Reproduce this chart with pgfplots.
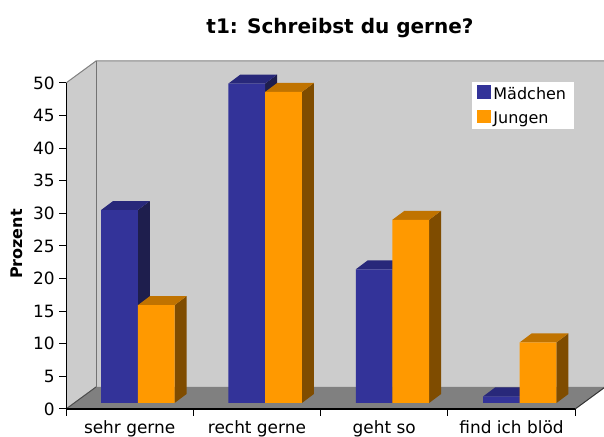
\documentclass[border=0pt]{standalone}
\usepackage{fontspec}
\setmainfont{DejaVu Sans}
\usepackage{pgfplots}
\usepackage{pgfplotstable}
\pgfplotsset{compat=1.18}
\definecolor{mfront}{HTML}{333399}
\definecolor{mtop}{HTML}{28287A}
\definecolor{mside}{HTML}{1E1E4D}
\definecolor{jfront}{HTML}{FF9900}
\definecolor{jtop}{HTML}{C07300}
\definecolor{jside}{HTML}{7F4C00}
\definecolor{wall}{HTML}{CCCCCC}
\definecolor{floorc}{HTML}{808080}

\pgfplotstableread{
cat m j
0 29.6 15.0
1 49.0 47.7
2 20.5 28.1
3 1.0 9.3
}\datatable

\newcommand\barfaces[4]{%
 \pgfplotsinvokeforeach{0,1,2,3}{%
  \pgfplotstablegetelem{##1}{#1}\of\datatable
  \let\bv\pgfplotsretval
  \pgfmathsetmacro\bxl{##1+(#2)+0.0644}%
  \pgfmathsetmacro\bxr{\bxl+0.2883}%
  \pgfmathsetmacro\bxld{\bxl+0.0943}%
  \pgfmathsetmacro\bxrd{\bxr+0.0943}%
  \pgfmathsetmacro\byb{0.92}%
  \pgfmathsetmacro\bybd{0.92+1.38}%
  \pgfmathsetmacro\byt{\bv+0.92}%
  \pgfmathsetmacro\bytd{\bv+0.92+1.38}%
  \edef\doplot{%
   \noexpand\addplot[fill=#3,draw=none,forget plot] coordinates {(\bxr,\byb) (\bxrd,\bybd) (\bxrd,\bytd) (\bxr,\byt)} -- cycle;
   \noexpand\addplot[fill=#4,draw=none,forget plot] coordinates {(\bxl,\byt) (\bxr,\byt) (\bxrd,\bytd) (\bxld,\bytd)} -- cycle;
  }\doplot
 }}

\begin{document}
\begin{tikzpicture}
\begin{axis}[
 x=95.475pt, y=4.89pt,
 xmin=-0.5, xmax=3.5, ymin=0, ymax=50,
 axis lines*=left,
 axis line style={-},
 x axis line style={line width=1.5pt, black},
 y axis line style={line width=0.75pt, black},
 axis on top,
 clip=false,
 tick align=outside,
 major tick length=5pt,
 ytick={0,5,...,50},
 y tick style={black, line width=0.75pt},
 xtick={-0.5,0.5,1.5,2.5,3.5},
 xticklabels={,,,,},
 x tick style={black, line width=0.75pt},
 extra x ticks={0,1,2,3},
 extra x tick labels={sehr gerne, recht gerne, geht so, find ich blöd},
 extra x tick style={major tick length=0pt, tick style={draw=none}, xticklabel style={yshift=-5.5pt}},
 tick label style={font=\fontsize{12.7}{14}\selectfont},
 /pgf/number format/assume math mode=true,
 title={t1: Schreibst du gerne?},
 title style={at={(rel axis cs:0.538,1.143)}, anchor=center, yshift=0pt, font=\fontsize{15}{17}\selectfont\bfseries},
 ylabel={Prozent},
 every axis y label/.style={at={(rel axis cs:-0.0962,0.506)}, rotate=90, anchor=center, font=\fontsize{12}{14}\selectfont\bfseries},
 legend style={at={(rel axis cs:0.797,1.003)}, anchor=north west, draw=none, fill=white,
   font=\fontsize{12}{14}\selectfont, inner xsep=3.75pt, inner ysep=0pt, row sep=2pt,
   cells={anchor=west}},
]
% walls and floor
\fill[wall] (axis cs:-0.2643,3.374) rectangle (axis cs:3.7357,53.374);
\fill[wall] (axis cs:-0.5,0) -- (axis cs:-0.5,50) -- (axis cs:-0.2643,53.374) -- (axis cs:-0.2643,3.374) -- cycle;
\fill[floorc] (axis cs:-0.5,0) -- (axis cs:3.5,0) -- (axis cs:3.7357,3.374) -- (axis cs:-0.2643,3.374) -- cycle;
\draw[gray, line width=0.75pt] (axis cs:-0.5,50) -- (axis cs:-0.2643,53.374) -- (axis cs:3.7357,53.374);
\draw[black!55, line width=0.75pt] (axis cs:-0.2643,53.374) -- (axis cs:-0.2643,3.374);
\draw[black!70, line width=0.75pt] (axis cs:-0.5,0) -- (axis cs:-0.2643,3.374);
\draw[black!80, line width=0.75pt] (axis cs:3.5,0) -- (axis cs:3.7357,3.374);
\coordinate (bbsw) at (axis cs:-1.0185,-4.294);
\coordinate (bbne) at (axis cs:3.7263,62.73);
% Maedchen
\barfaces{m}{-0.2883}{mside}{mtop}
\addplot[ybar, bar width=27.53pt, bar shift=-13.76pt, fill=mfront, draw=none, xshift=6.15pt, yshift=4.5pt,
  legend image code/.code={\fill[mfront] (0pt,-7.6pt) rectangle (10.25pt,2.65pt); \path (0pt,4.65pt);}]
  table[x=cat, y=m] {\datatable};
\addlegendentry{Mädchen}
% Jungen
\barfaces{j}{0}{jside}{jtop}
\addplot[ybar, bar width=27.53pt, bar shift=13.76pt, fill=jfront, draw=none, xshift=6.15pt, yshift=4.5pt,
  legend image code/.code={\fill[jfront] (0pt,-7.6pt) rectangle (10.25pt,2.65pt); \path (0pt,4.65pt);}]
  table[x=cat, y=j] {\datatable};
\addlegendentry{Jungen}
\end{axis}
\pgfresetboundingbox
\useasboundingbox (bbsw) rectangle (bbne);
\end{tikzpicture}
\end{document}
